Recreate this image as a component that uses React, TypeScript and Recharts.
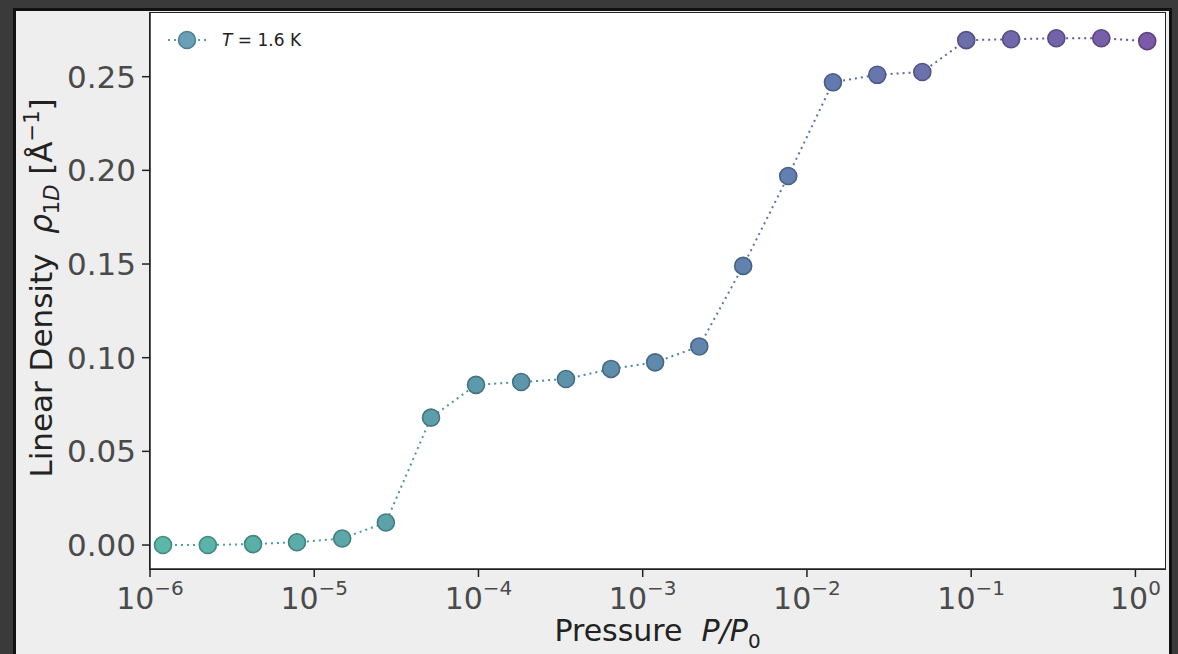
import { LineChart, Line, XAxis, YAxis } from "recharts";

// values
const pressure: number[] = [
  1.2e-6, 2.25e-6, 4.24e-6, 7.85e-6, 1.48e-5, 2.73e-5, 5.14e-5, 9.66e-5,
  1.82e-4, 3.41e-4, 6.42e-4, 1.19e-3, 2.21e-3, 4.09e-3, 7.69e-3, 1.44e-2,
  2.68e-2, 5.04e-2, 9.33e-2, 0.175, 0.33, 0.62, 1.18,
];
const density: number[] = [
  0.0, 0.0, 0.0005, 0.0015, 0.0035, 0.012, 0.068, 0.0855, 0.087, 0.0886,
  0.094, 0.0975, 0.106, 0.149, 0.197, 0.247, 0.251, 0.2525, 0.2695, 0.27,
  0.2705, 0.2705, 0.269,
];
const xTicks: number[] = [1e-6, 1e-5, 1e-4, 1e-3, 1e-2, 1e-1, 1];
const xTickExp: string[] = ["−6", "−5", "−4", "−3", "−2", "−1", "0"];
const yTicks: number[] = [0, 0.05, 0.1, 0.15, 0.2, 0.25];
const seriesName = "T = 1.6 K";

const data = pressure.map((p, i) => ({ p, rho: density[i] }));

// colour ramp teal -> blue -> purple
const stops: [number, number, number][] = [
  [91, 184, 168],
  [92, 152, 170],
  [98, 124, 176],
  [124, 90, 168],
];
const mix = (t: number, k: number): string => {
  const seg = Math.min(stops.length - 2, Math.floor(t * (stops.length - 1)));
  const f = t * (stops.length - 1) - seg;
  const a = stops[seg];
  const b = stops[seg + 1];
  const c = a.map((v, j) => Math.round((v + (b[j] - v) * f) * k));
  return `rgb(${c[0]},${c[1]},${c[2]})`;
};
const fills = pressure.map((_, i) => mix(i / (pressure.length - 1), 1));
const edges = pressure.map((_, i) => mix(i / (pressure.length - 1), 0.75));

const FONT = "'DejaVu Sans', sans-serif";
const LIGHT = "'DejaVu Sans ExtraLight', 'DejaVu Sans', sans-serif";
const SP = "\u00a0\u00a0";

const XTick = (props: any) => {
  const { x, y, index } = props;
  return (
    <text x={x} y={y + 30} textAnchor="middle" fontFamily={LIGHT} fill="#4a4a4a" fontSize={30}>
      10
      <tspan dy={-14} fontSize={20}>
        {xTickExp[index]}
      </tspan>
    </text>
  );
};

const YLabel = (props: any) => {
  const vb = props.viewBox || { x: 0, y: 13, height: 556 };
  const cx = vb.x + 52;
  const cy = vb.y + vb.height / 2 - 3;
  return (
    <text
      x={cx}
      y={cy}
      transform={`rotate(-90, ${cx}, ${cy})`}
      textAnchor="middle"
      fontFamily={FONT}
      fontSize={31}
      fill="#222"
    >
      {"Linear Density" + SP}
      <tspan fontStyle="italic">ρ</tspan>
      <tspan dy={7} fontSize={21}>
        1<tspan fontStyle="italic">D</tspan>
      </tspan>
      <tspan dy={-7}>{"\u00a0[Å"}</tspan>
      <tspan dy={-13} fontSize={21}>
        −1
      </tspan>
      <tspan dy={13}>]</tspan>
    </text>
  );
};

const XLabel = (props: any) => {
  const vb = props.viewBox || { x: 150, y: 569, width: 1015 };
  const cx = vb.x + vb.width / 2;
  return (
    <text x={cx} y={641} textAnchor="middle" fontFamily={FONT} fontSize={30} fill="#222">
      {"Pressure" + SP}
      <tspan fontStyle="italic">P/P</tspan>
      <tspan dy={7} fontSize={20}>
        0
      </tspan>
    </text>
  );
};

const LegendBox = () => (
  <svg width={200} height={30} style={{ position: "absolute", left: 160, top: 25 }}>
    <line x1={8} y1={15} x2={46} y2={15} stroke="#5a96ac" strokeWidth={2} strokeDasharray="2 4" />
    <circle cx={27} cy={15} r={8.5} fill="#6a9fb5" stroke="#4a7f95" strokeWidth={1.5} />
    <text x={62} y={21} fontFamily={FONT} fontSize={17} fill="#222">
      <tspan fontStyle="italic">T</tspan>
      {"\u00a0=\u00a01.6 K"}
    </text>
  </svg>
);

const Dot = (props: any) => {
  const { cx, cy, index } = props;
  return (
    <circle
      key={`d${index}`}
      cx={cx}
      cy={cy}
      r={8.5}
      fill={fills[index]}
      stroke={edges[index]}
      strokeWidth={1.6}
    />
  );
};

export default function App() {
  return (
    <div
      style={{
        position: "fixed",
        left: 0,
        top: 0,
        width: 1178,
        height: 654,
        background: "#3a3a3a",
        overflow: "hidden",
      }}
    >
      {/* figure panel */}
      <div
        style={{
          position: "absolute",
          left: 13,
          top: 8,
          width: 1159,
          height: 660,
          boxSizing: "border-box",
          border: "3px solid #111",
          background: "#eeeeee",
        }}
      />
      {/* plot area */}
      <div
        style={{
          position: "absolute",
          left: 149,
          top: 12,
          width: 1017,
          height: 558,
          boxSizing: "border-box",
          border: "1.5px solid #222",
          background: "#ffffff",
        }}
      />
      <div style={{ position: "absolute", left: 0, top: 0 }}>
        <LineChart
          width={1178}
          height={654}
          data={data}
          margin={{ top: 13, right: 13, left: 0, bottom: 0 }}
        >
          <defs>
            <linearGradient id="lineGrad" x1="0" y1="0" x2="1" y2="0">
              <stop offset="0%" stopColor="#4aa89a" />
              <stop offset="45%" stopColor="#4f8aa0" />
              <stop offset="75%" stopColor="#5a6aa8" />
              <stop offset="100%" stopColor="#6a4e98" />
            </linearGradient>
          </defs>
          <XAxis
            dataKey="p"
            type="number"
            scale="log"
            domain={[1e-6, 1.514]}
            ticks={xTicks}
            allowDataOverflow
            height={85}
            tickSize={8}
            tickMargin={2}
            stroke="#222"
            strokeWidth={1.5}
            tick={<XTick />}
            label={<XLabel />}
          />
          <YAxis
            type="number"
            domain={[-0.0128, 0.284]}
            ticks={yTicks}
            allowDataOverflow
            width={150}
            tickSize={8}
            tickMargin={6}
            stroke="#222"
            strokeWidth={1.5}
            tickFormatter={(v: number) => v.toFixed(2)}
            tick={{ fill: "#4a4a4a", fontSize: 31, fontFamily: LIGHT }}
            label={<YLabel />}
          />
          <Line
            type="linear"
            dataKey="rho"
            name={seriesName}
            stroke="url(#lineGrad)"
            strokeWidth={2}
            strokeDasharray="2 4"
            dot={<Dot />}
            activeDot={false}
            isAnimationActive={false}
          />
        </LineChart>
      </div>
      <LegendBox />
    </div>
  );
}
